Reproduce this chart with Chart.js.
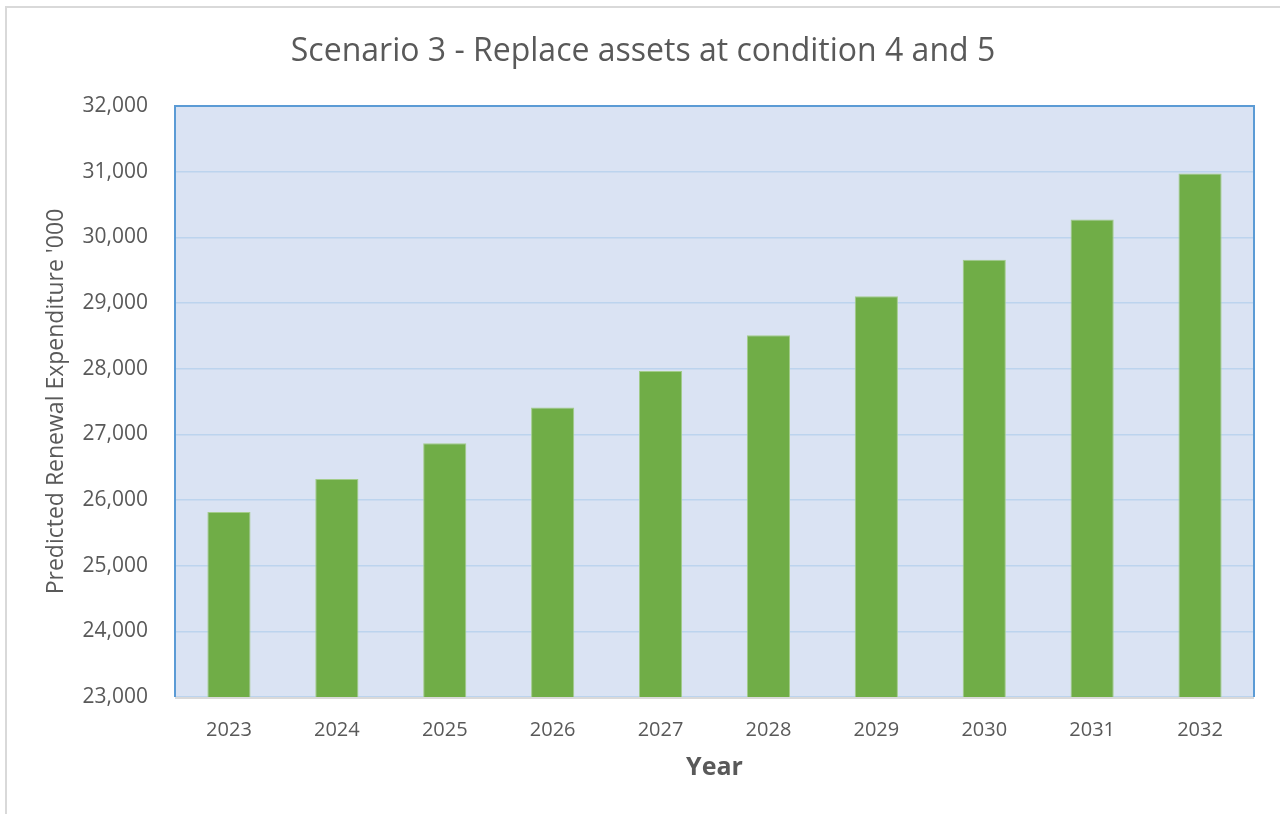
<!DOCTYPE html>
<html>
<head>
<meta charset="utf-8">
<script src="https://cdn.jsdelivr.net/npm/chart.js@4"></script>
<style>
    html, body { margin: 0; padding: 0; background: #fff; overflow: hidden; }
    #frame { position: absolute; left: 5px; top: 6px; width: 1300px; height: 840px; border: 2px solid #d9d9d9; box-sizing: border-box; }
    #wrap { position: absolute; left: 0; top: 0; width: 1280px; height: 814px; }
</style>
</head>
<body>
<div id="frame"></div>
<div id="wrap"><canvas id="scenario-chart"></canvas></div>
<script>
const years = ['2023', '2024', '2025', '2026', '2027', '2028', '2029', '2030', '2031', '2032'];
const expenditure = [25817, 26320, 26863, 27407, 27965, 28509, 29101, 29660, 30271, 30971];
const yTicks = [23000, 24000, 25000, 26000, 27000, 28000, 29000, 30000, 31000, 32000];
const chartTitle = 'Scenario 3 - Replace assets at condition 4 and 5';

const textGrey = '#595959';
const fontName = "'Open Sans', sans-serif";

// plot area fill, its frame (blue on three sides, grey at the bottom) and the title
const plotArea = {
    id: 'plotArea',
    beforeDraw(chart) {
        const { ctx, chartArea: a } = chart;
        ctx.save();
        ctx.fillStyle = '#dae3f3';
        ctx.fillRect(a.left, a.top, a.right - a.left, a.bottom - a.top);
        ctx.restore();
    },
    afterDraw(chart) {
        const { ctx, chartArea: a } = chart;
        ctx.save();
        ctx.lineWidth = 2;
        ctx.strokeStyle = '#5b9bd5';
        ctx.beginPath();
        ctx.moveTo(a.left, a.bottom);
        ctx.lineTo(a.left, a.top);
        ctx.lineTo(a.right, a.top);
        ctx.lineTo(a.right, a.bottom);
        ctx.stroke();
        ctx.strokeStyle = '#d9d9d9';
        ctx.beginPath();
        ctx.moveTo(a.left, a.bottom + 1);
        ctx.lineTo(a.right, a.bottom + 1);
        ctx.stroke();

        ctx.fillStyle = textGrey;
        ctx.font = '32px ' + fontName;
        ctx.textAlign = 'center';
        ctx.textBaseline = 'middle';
        ctx.fillText(chartTitle, 643, 52);
        ctx.restore();
    }
};

const ctx = document.getElementById('scenario-chart').getContext('2d');
new Chart(ctx, {
    type: 'bar',
    data: {
        labels: years,
        datasets: [{
            label: 'Predicted Renewal Expenditure',
            data: expenditure,
            backgroundColor: '#70ad47',
            borderColor: '#a3cc8a',
            borderWidth: 1,
            barPercentage: 0.4,
            categoryPercentage: 1
        }]
    },
    options: {
        responsive: true,
        maintainAspectRatio: false,
        animation: false,
        layout: { padding: { left: 10, right: 26, top: 106, bottom: 0 } },
        plugins: {
            legend: { display: false },
            tooltip: { enabled: false },
            title: { display: false }
        },
        scales: {
            x: {
                grid: { display: false, drawTicks: false },
                border: { display: false },
                ticks: { color: textGrey, font: { family: fontName, size: 20 }, padding: 21, maxRotation: 0 },
                title: {
                    display: true,
                    text: 'Year',
                    color: textGrey,
                    font: { family: fontName, size: 25, weight: 'bold' },
                    padding: { top: 0, bottom: 31 }
                },
                afterFit(scale) { scale.height = 117; }
            },
            y: {
                min: 23000,
                max: 32000,
                grid: { color: '#bcd4ee', lineWidth: 1.6, drawTicks: false },
                border: { display: false },
                afterBuildTicks(scale) { scale.ticks = yTicks.map(v => ({ value: v })); },
                ticks: {
                    color: textGrey,
                    font: { family: fontName, size: 21 },
                    padding: 27,
                    callback: v => v.toLocaleString('en-US')
                },
                title: {
                    display: true,
                    text: "Predicted Renewal Expenditure '000",
                    color: textGrey,
                    font: { family: fontName, size: 23 },
                    padding: { top: 33, bottom: 0 }
                },
                afterFit(scale) { scale.width = 165; }
            }
        }
    },
    plugins: [plotArea]
});
</script>
</body>
</html>
